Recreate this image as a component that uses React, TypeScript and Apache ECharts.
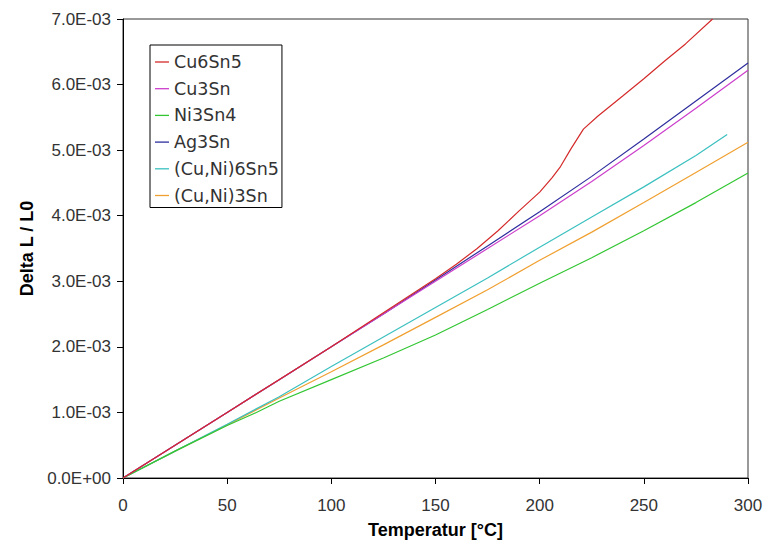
import React, { useEffect, useRef } from "react";
import * as echarts from "echarts";

const seriesNames = ["Cu6Sn5", "Cu3Sn", "Ni3Sn4", "Ag3Sn", "(Cu,Ni)6Sn5", "(Cu,Ni)3Sn"];
const seriesColors = ["#d42a2a", "#cc3fcc", "#33c633", "#2e2e9e", "#3cc0c0", "#f0a030"];

const cu6sn5T = [0, 50, 100, 150, 160, 170, 180, 190, 200, 206, 210, 215, 221, 228, 240, 250, 260, 270, 283];
const cu6sn5V = [0, 1.0e-3, 2.0e-3, 3.04e-3, 3.26e-3, 3.5e-3, 3.77e-3, 4.07e-3, 4.36e-3, 4.58e-3, 4.75e-3, 5.02e-3, 5.32e-3, 5.52e-3, 5.83e-3, 6.09e-3, 6.36e-3, 6.62e-3, 7.0e-3];

const commonT = [0, 25, 50, 75, 100, 125, 150, 175, 200, 225, 250, 275, 300];
const cu3snV = [0, 0.5e-3, 1.0e-3, 1.5e-3, 2.0e-3, 2.5e-3, 3.0e-3, 3.5e-3, 4.0e-3, 4.52e-3, 5.07e-3, 5.64e-3, 6.22e-3];
const ag3snV = [0, 0.5e-3, 1.0e-3, 1.5e-3, 2.0e-3, 2.5e-3, 3.02e-3, 3.54e-3, 4.06e-3, 4.6e-3, 5.17e-3, 5.75e-3, 6.33e-3];
const ni3sn4T = [0, 25, 50, 64, 75, 100, 125, 150, 175, 200, 225, 250, 275, 300];
const ni3sn4V = [0, 0.41e-3, 0.8e-3, 1.0e-3, 1.17e-3, 1.5e-3, 1.83e-3, 2.18e-3, 2.57e-3, 2.97e-3, 3.36e-3, 3.77e-3, 4.2e-3, 4.65e-3];
const cuni6sn5T = [0, 25, 50, 75, 100, 125, 150, 175, 200, 225, 250, 275, 290];
const cuni6sn5V = [0, 0.41e-3, 0.82e-3, 1.24e-3, 1.7e-3, 2.15e-3, 2.6e-3, 3.05e-3, 3.52e-3, 3.98e-3, 4.44e-3, 4.92e-3, 5.24e-3];
const cuni3snV = [0, 0.41e-3, 0.81e-3, 1.22e-3, 1.62e-3, 2.03e-3, 2.45e-3, 2.87e-3, 3.32e-3, 3.75e-3, 4.2e-3, 4.66e-3, 5.12e-3];

const xTicks = { min: 0, max: 300, interval: 50 };
const yTicks = { min: 0, max: 0.007, interval: 0.001 };

const zip = (xs: number[], ys: number[]) => xs.map((x, i) => [x, ys[i]]);

const seriesData = [
  zip(cu6sn5T, cu6sn5V),
  zip(commonT, cu3snV),
  zip(ni3sn4T, ni3sn4V),
  zip(commonT, ag3snV),
  zip(cuni6sn5T, cuni6sn5V),
  zip(commonT, cuni3snV),
];

const fmtY = (v: number) => {
  const s = Number(v).toExponential(1);
  const [m, e] = s.split("e");
  const sign = e[0] === "-" ? "-" : "+";
  const digits = e.replace(/^[+-]/, "").padStart(2, "0");
  return `${m}E${sign}${digits}`;
};

export default function App() {
  const ref = useRef<HTMLDivElement>(null);
  useEffect(() => {
    if (!ref.current) return;
    const chart = echarts.init(ref.current, undefined, { renderer: "svg" });
    const tickFont = "Liberation Sans";
    chart.setOption({
      animation: false,
      backgroundColor: "#ffffff",
      grid: {
        left: 123,
        right: 20,
        top: 19,
        bottom: 61,
        show: true,
        borderColor: "#333",
        borderWidth: 1,
      },
      legend: {
        left: 150,
        top: 45,
        orient: "vertical",
        data: seriesNames.map((n) => ({ name: n, icon: "rect" })),
        itemWidth: 14,
        itemHeight: 1.3,
        itemGap: 8.7,
        padding: [8, 3, 3, 5],
        borderColor: "#000",
        borderWidth: 1,
        backgroundColor: "#fff",
        textStyle: { fontFamily: "DejaVu Sans", fontSize: 17.5, color: "#333", lineHeight: 18, height: 18 },
      },
      xAxis: {
        type: "value",
        ...xTicks,
        name: "Temperatur [°C]",
        nameLocation: "middle",
        nameGap: 43,
        nameTextStyle: { fontFamily: "Liberation Sans", fontWeight: "bold", fontSize: 18, color: "#000" },
        axisLine: { show: true, onZero: false, lineStyle: { color: "#000", width: 1 } },
        axisTick: { show: true, inside: false, length: 6, lineStyle: { color: "#000" } },
        axisLabel: { margin: 19, fontFamily: tickFont, fontSize: 17, color: "#333" },
        splitLine: { show: false },
      },
      yAxis: {
        type: "value",
        ...yTicks,
        name: "Delta L / L0",
        nameLocation: "middle",
        nameGap: 86,
        nameRotate: 90,
        nameTextStyle: { fontFamily: "Liberation Sans", fontWeight: "bold", fontSize: 18, color: "#000" },
        axisLine: { show: true, onZero: false, lineStyle: { color: "#000", width: 1 } },
        axisTick: { show: true, inside: false, length: 6, lineStyle: { color: "#000" } },
        axisLabel: { margin: 12, fontFamily: tickFont, fontSize: 17, color: "#333", formatter: fmtY },
        splitLine: { show: false },
      },
      series: seriesNames.map((name, i) => ({
        name,
        type: "line",
        data: seriesData[i],
        symbol: "none",
        showSymbol: false,
        color: seriesColors[i],
        lineStyle: { color: seriesColors[i], width: 1.2 },
        clip: true,
        z: 10 - i,
      })),
    });
    return () => chart.dispose();
  }, []);
  return <div ref={ref} style={{ width: 768, height: 544, position: "absolute", left: 0, top: 0 }} />;
}
